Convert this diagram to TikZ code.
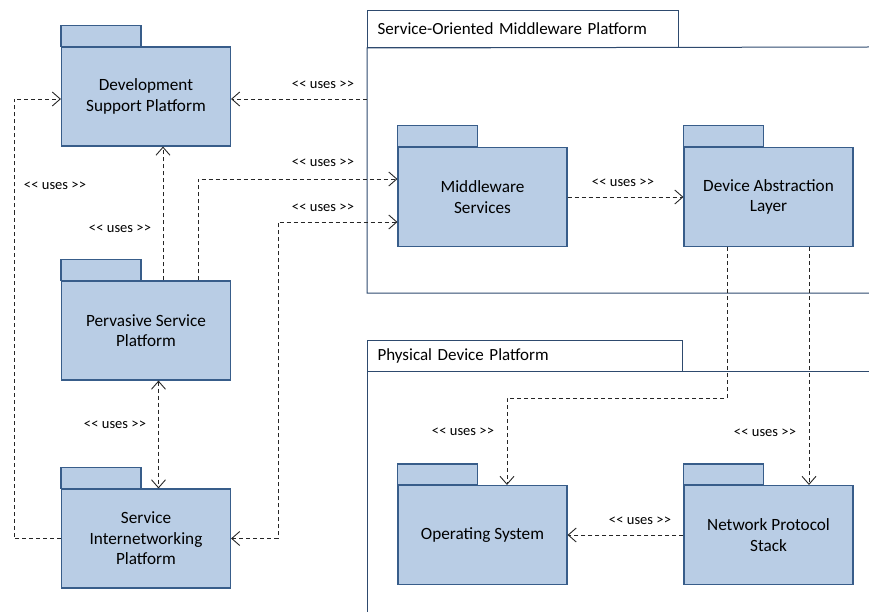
\documentclass[tikz,border=0pt]{standalone}
\usepackage{fontspec}
\setmainfont{Carlito}
\usepackage{tikz}
\usetikzlibrary{arrows.meta}
\definecolor{pkgfill}{HTML}{B9CDE5}
\definecolor{pkgline}{HTML}{385D8A}
\definecolor{frameline}{HTML}{2E4A6E}
\newcommand{\usestag}{<\kern0.3pt< uses >\kern0.3pt>}
\tikzset{pkg/.style={draw=pkgline,fill=pkgfill,line width=1.1pt,minimum width=169pt,
        minimum height=99pt,inner sep=0pt,align=center,font=\fontsize{17.2}{20.5}\selectfont},
    pkgtab/.style={draw=pkgline,fill=pkgfill,line width=1.1pt},
    pkgframe/.style={draw=frameline,line width=1pt},
    frametab/.style={pkgframe,anchor=north west,inner xsep=10pt,inner ysep=0pt,text width=#1,
        align=left,font=\fontsize{17}{19}\selectfont},
    uses/.style={draw=black!85,line width=0.9pt,dash pattern=on 4pt off 3pt,
        >={Straight Barb[length=8pt,width=14pt]},->},
    usestext/.style={font=\fontsize{14.5}{16}\selectfont},
    x=1pt,y=-1pt}

\begin{document}
\begin{tikzpicture}
\useasboundingbox (0,0) rectangle (869,612);
\node[frametab=291pt,minimum height=37pt] (somp) at (367,10) {Service-Oriented Middleware Platform};
\draw[pkgframe] (869,293) -| (somp.south west) -- (869,47);
\node[frametab=295pt,minimum height=31pt] (pdp) at (367,340) {Physical Device Platform};
\draw[pkgframe] (367,612) |- (869,371);

\node[pkg] (dsp) at (146,96.5) {Development\\Support Platform};
\node[pkg] (psp) at (146,330.5) {Pervasive Service\\Platform};
\node[pkg] (sip) at (146,538.5) {Service\\Internetworking\\Platform};
\node[pkg] (ms) at (482.5,197) {Middleware\\Services};
\node[pkg] (dal) at (768.5,197) {Device Abstraction\\Layer};
\node[pkg] (os) at (482.5,535) {Operating System};
\node[pkg] (nps) at (768.5,535) {Network Protocol\\Stack};
\foreach \p in {dsp,psp,sip,ms,dal,os,nps}
    \draw[pkgtab] (\p.north west) rectangle ++(80,-21);

\coordinate (sompin) at (367,99);
\draw[uses] (sompin) -- (sompin -| dsp.east);
\draw[uses] ([xshift=17pt]psp.north) -- ([xshift=17pt]dsp.south);
\draw[uses] ([xshift=52pt]psp.north) |- ([yshift=18pt]ms.west);
\draw[uses,<->] (sip.east) -- ++(47,0) |- ([yshift=-25pt]ms.west);
\draw[uses,<->] ([xshift=12.5pt]psp.south) -- ([xshift=12.5pt]sip.north);
\draw[uses] (sip.west) -- ++(-47,0) |- ([yshift=-2.5pt]dsp.west);
\draw[uses] (ms) -- (dal);
\draw[uses] ([xshift=-41.5pt]dal.south) -- ++(0,151) -| ([xshift=24.5pt]os.north);
\draw[uses] ([xshift=40.5pt]dal.south) -- ([xshift=40.5pt]nps.north);
\draw[uses] (nps) -- (os);

\node[usestext] (l1) at (323,85) {\usestag};
\node[usestext] (l2) at (120,229) {\usestag};
\node[usestext] (l3) at (323,163) {\usestag};
\node[usestext] (l4) at (323,208) {\usestag};
\node[usestext] (l5) at (55,186) {\usestag};
\node[usestext] (l6) at (115,425) {\usestag};
\node[usestext] (l7) at (623,183) {\usestag};
\node[usestext] (l8) at (463,432) {\usestag};
\node[usestext] (l9) at (765,433) {\usestag};
\node[usestext] (l10) at (640,521) {\usestag};
\end{tikzpicture}
\end{document}
